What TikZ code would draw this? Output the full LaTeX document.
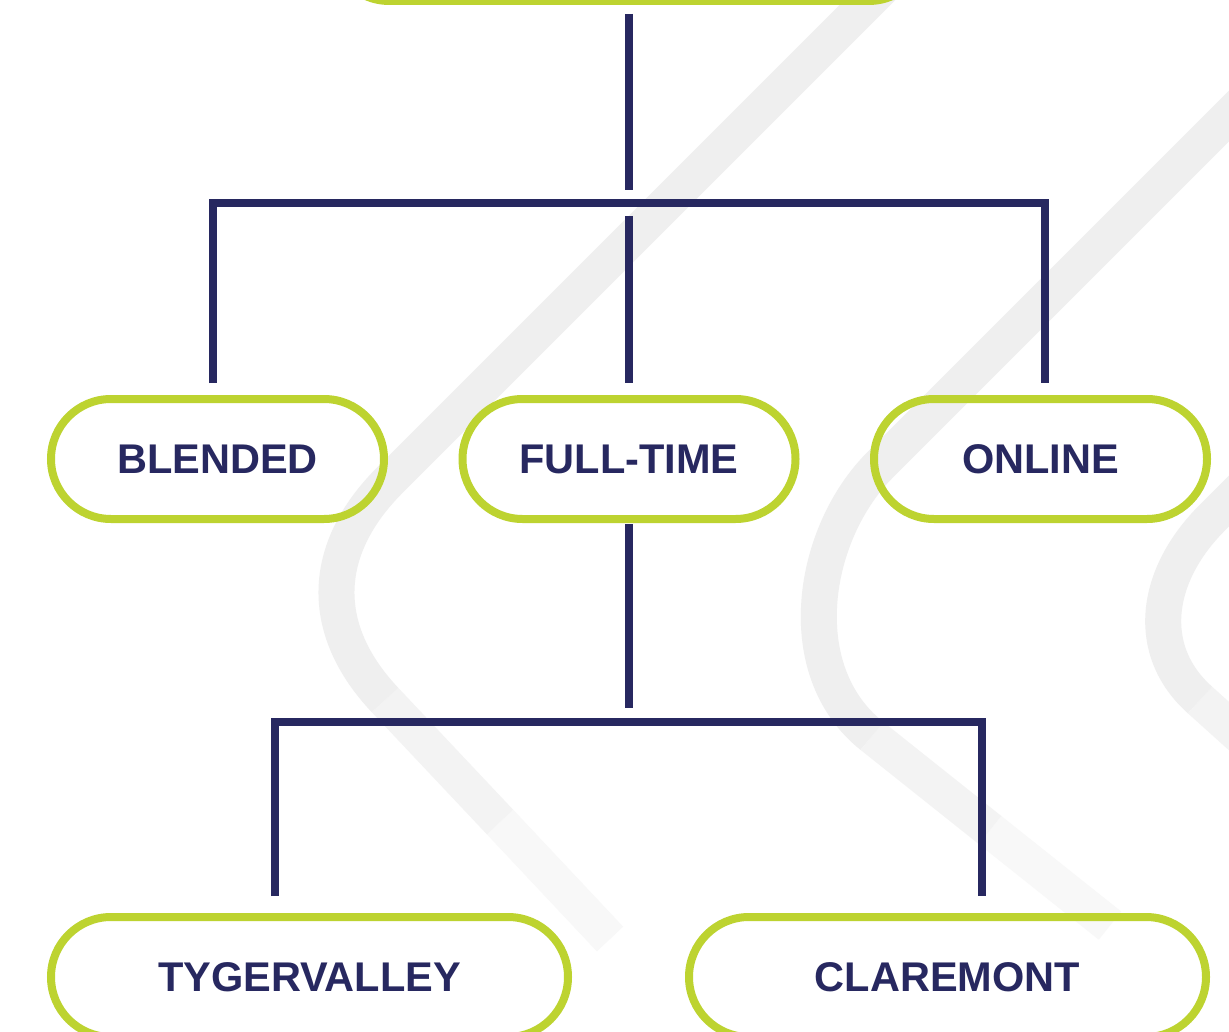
\documentclass[tikz,border=0pt]{standalone}
\usepackage{fontspec}
\setmainfont{Liberation Sans}
\usetikzlibrary{calc}
\definecolor{navy}{HTML}{272860}
\definecolor{lime}{HTML}{BDD330}
\definecolor{swoosh}{HTML}{EFEFEF}
\definecolor{swooshB}{HTML}{F3F3F3}
\definecolor{swooshC}{HTML}{F8F8F8}
\begin{document}
\begin{tikzpicture}[x=1pt,y=-1pt,
  pill/.style={draw=lime, line width=8pt, rectangle, rounded corners=60pt,
    minimum height=120pt, inner sep=0pt, outer sep=0pt,
    text=navy, font=\bfseries\fontsize{41.5}{50}\selectfont},
  midpill/.style={pill, minimum width=333pt},
  lowpill/.style={pill, minimum width=517pt},
  conn/.style={draw=navy, line width=8pt, line cap=butt, line join=miter},
  band/.style={draw=swoosh, line width=36pt, line cap=butt},
  bandB/.style={band, draw=swooshB},
  bandC/.style={band, draw=swooshC}]
\useasboundingbox (0,0) rectangle (1229,1032);
\clip (0,0) rectangle (1229,1032);
\fill[white] (0,0) rectangle (1229,1032);
% background swooshes
\draw[bandC] (500,822) -- (610,939);
\draw[bandB] (385,700) -- (500,822);
\draw[band] (895,-25) -- (390,480) .. controls (320,550) and (319,630) .. (385,700);
\draw[bandC] (990,830) -- (1110,925.6);
\draw[bandB] (872,736) -- (990,830);
\draw[band] (1260,85) -- (880,465) .. controls (812,533) and (789,670) .. (872,736);
\draw[bandB] (1200,700) -- (1300,790);
\draw[band] (1300,430) -- (1212,518) .. controls (1155,575) and (1144,650) .. (1200,700);
% nodes
\node[pill, minimum width=599pt] (top) at (629,-59) {};
\node[midpill] (blended) at (217.5,459) {BLENDED};
\node[midpill] (fulltime) at (629,459) {FULL-TIME};
\node[midpill] (online) at (1040.5,459) {ONLINE};
\node[lowpill] (tyger) at (309.5,977) {TYGERVALLEY};
\node[lowpill] (clare) at (947.5,977) {CLAREMONT};
% junction coordinates
\coordinate (barL) at (213,203);
\coordinate (barR) at (1045,203);
\coordinate (barM) at (629,203);
\coordinate (lowL) at (275,722);
\coordinate (lowR) at (982,722);
\coordinate (lowM) at (629,722);
% connectors
\draw[conn] ($(top.south)+(0,13)$) -- ($(barM)+(0,-13)$);
\draw[conn] ($(blended.north -| barL)+(0,-16)$) -- (barL) -- (barR) -- ($(online.north -| barR)+(0,-16)$);
\draw[conn] ($(barM)+(0,13)$) -- ($(fulltime.north)+(0,-16)$);
\draw[conn] ($(fulltime.south)+(0,5)$) -- ($(lowM)+(0,-14)$);
\draw[conn] ($(tyger.north -| lowL)+(0,-21)$) -- (lowL) -- (lowR) -- ($(clare.north -| lowR)+(0,-21)$);
\end{tikzpicture}
\end{document}
